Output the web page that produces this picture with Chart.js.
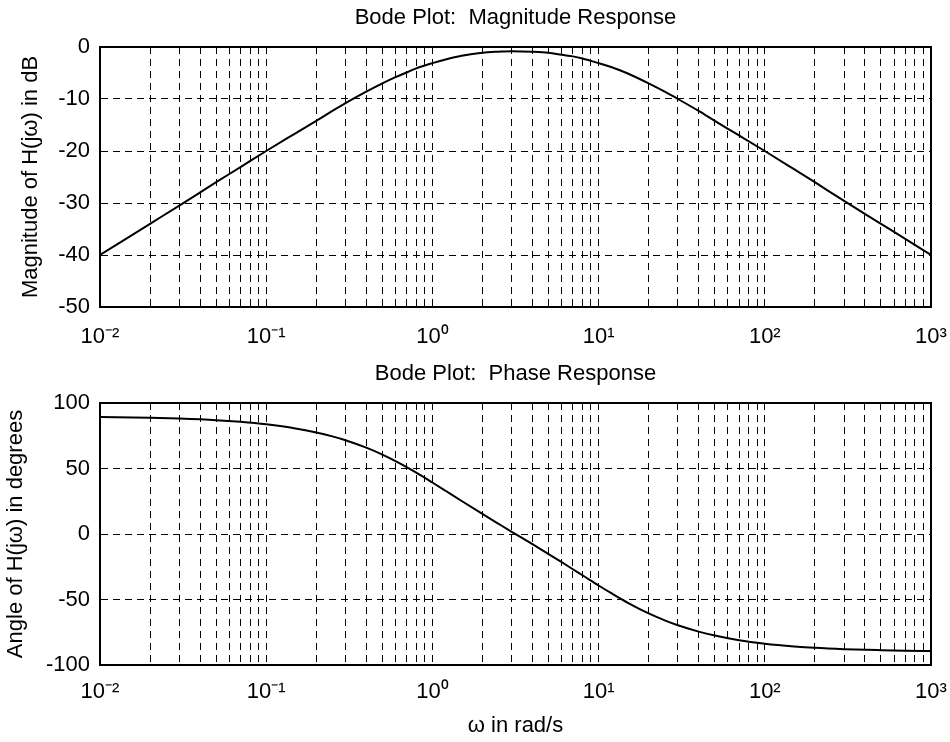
<!DOCTYPE html>
<html>
<head>
<meta charset="utf-8">
<script src="https://cdn.jsdelivr.net/npm/chart.js@4"></script>
<style>
  body { margin: 0; background: #fff; }
  #wrap { position: relative; width: 950px; height: 742px; }
  canvas { position: absolute; left: 0; }
  #mag-chart { top: 0; }
  #phase-chart { top: 355px; }
</style>
</head>
<body>
<div id="wrap">
  <canvas id="mag-chart" width="950" height="355"></canvas>
  <canvas id="phase-chart" width="950" height="387"></canvas>
</div>
<script>
// frequency points (rad/s)
const omega = [0.01, 0.02, 0.03, 0.05, 0.07, 0.1, 0.15, 0.2, 0.25, 0.3, 0.4, 0.5, 0.6, 0.7, 0.8, 1, 1.2, 1.5, 2, 2.5, 3, 4, 5, 6, 7, 8, 10, 12, 15, 20, 25, 30, 40, 50, 70, 100, 150, 200, 300, 500, 700, 1000];
// magnitude in dB
const magnitudeDb = [-40, -34, -30.5, -26, -23.1, -20, -16.6, -14.2, -12.3, -10.8, -8.6, -7, -5.8, -4.9, -4.1, -3.1, -2.4, -1.7, -1.1, -0.9, -0.8, -0.9, -1.1, -1.5, -1.8, -2.2, -3.1, -3.9, -5.1, -7, -8.6, -10, -12.3, -14.2, -17, -20, -23.5, -26, -29.6, -34, -36.9, -40];
// phase in degrees
const phaseDeg = [89.4, 88.7, 88.1, 86.9, 85.6, 83.7, 80.6, 77.5, 74.5, 71.6, 65.9, 60.6, 55.6, 51, 46.8, 39.3, 33, 25.2, 15.3, 7.8, 1.7, -7.8, -15.3, -21.5, -26.9, -31.5, -39.3, -45.4, -52.5, -60.6, -65.9, -69.7, -74.5, -77.5, -81.1, -83.7, -85.8, -86.9, -87.9, -88.7, -89.1, -89.4];

const decades = [0.01, 0.1, 1, 10, 100, 1000];
const decadeLabels = ['10\u207B\u00B2', '10\u207B\u00B9', '10\u2070', '10\u00B9', '10\u00B2', '10\u00B3'];

Chart.defaults.font.family = "'Liberation Sans', Arial, sans-serif";
Chart.defaults.font.size = 22;
Chart.defaults.color = '#000';

function logTicks(scale) {
    const ticks = [];
    for (let i = 0; i < decades.length - 1; i++) {
        ticks.push({value: decades[i]});
        for (let m = 2; m <= 9; m++) {
            ticks.push({value: decades[i] * m});
        }
    }
    ticks.push({value: decades[decades.length - 1]});
    scale.ticks = ticks;
}

// solid frame round the plot area
const boxPlugin = {
    id: 'box',
    afterDraw(chart) {
        const a = chart.chartArea;
        const ctx = chart.ctx;
        ctx.save();
        ctx.strokeStyle = '#000';
        ctx.lineWidth = 2;
        ctx.strokeRect(a.left, a.top, a.right - a.left, a.bottom - a.top);
        ctx.restore();
    }
};

function makeChart(canvas, opts) {
    return new Chart(canvas.getContext('2d'), {
        type: 'line',
        data: {
            datasets: [{
                data: omega.map((w, i) => ({x: w, y: opts.values[i]})),
                borderColor: '#000',
                borderWidth: 2,
                pointRadius: 0,
                fill: false,
                cubicInterpolationMode: 'monotone'
            }]
        },
        options: {
            responsive: false,
            animation: false,
            devicePixelRatio: 1,
            layout: {padding: {right: 19}},
            plugins: {legend: {display: false}, tooltip: {enabled: false}},
            scales: {
                x: {
                    type: 'logarithmic',
                    position: 'bottom',
                    min: 0.01,
                    max: 1000,
                    afterBuildTicks: logTicks,
                    afterFit: s => { s.height = opts.bottomHeight; },
                    // transparent tick marks only push the labels down
                    grid: {color: '#000', lineWidth: 1, drawTicks: true, tickLength: opts.xTickGap, tickColor: 'rgba(0,0,0,0)'},
                    border: {display: true, color: '#000', width: 2, dash: [7, 5]},
                    ticks: {
                        autoSkip: false,
                        maxRotation: 0,
                        padding: 2,
                        callback: v => {
                            const k = decades.indexOf(v);
                            return k >= 0 ? decadeLabels[k] : '';
                        }
                    },
                    title: opts.xTitle ? {display: true, text: opts.xTitle, padding: {top: 0, bottom: 3}} : {display: false}
                },
                top: {
                    type: 'logarithmic',
                    position: 'top',
                    min: 0.01,
                    max: 1000,
                    afterFit: s => { s.height = opts.topHeight; },
                    grid: {display: false},
                    border: {display: false},
                    ticks: {display: false},
                    title: {display: true, text: opts.title, padding: {top: opts.titlePad, bottom: 0}}
                },
                y: {
                    min: opts.yMin,
                    max: opts.yMax,
                    afterFit: s => { s.width = 100; },
                    grid: {color: '#000', lineWidth: 1, drawTicks: false},
                    border: {display: true, color: '#000', width: 2, dash: [7, 5]},
                    ticks: {stepSize: opts.yStep, padding: 10},
                    title: {display: true, text: opts.yTitle, padding: {top: opts.yTitlePad, bottom: 0}}
                }
            }
        },
        plugins: [boxPlugin]
    });
}

makeChart(document.querySelector('#mag-chart'), {
    values: magnitudeDb,
    title: 'Bode Plot:  Magnitude Response',
    titlePad: 5,
    topHeight: 47,
    bottomHeight: 48,
    xTickGap: 15,
    yMin: -50, yMax: 0, yStep: 10,
    yTitle: 'Magnitude of H(j\u03C9) in dB',
    yTitlePad: 18
});

makeChart(document.querySelector('#phase-chart'), {
    values: phaseDeg,
    title: 'Bode Plot:  Phase Response',
    titlePad: 6,
    topHeight: 48,
    bottomHeight: 77,
    xTickGap: 12,
    yMin: -100, yMax: 100, yStep: 50,
    yTitle: 'Angle of H(j\u03C9) in degrees',
    yTitlePad: 3,
    xTitle: '\u03C9 in rad/s'
});
</script>
</body>
</html>
